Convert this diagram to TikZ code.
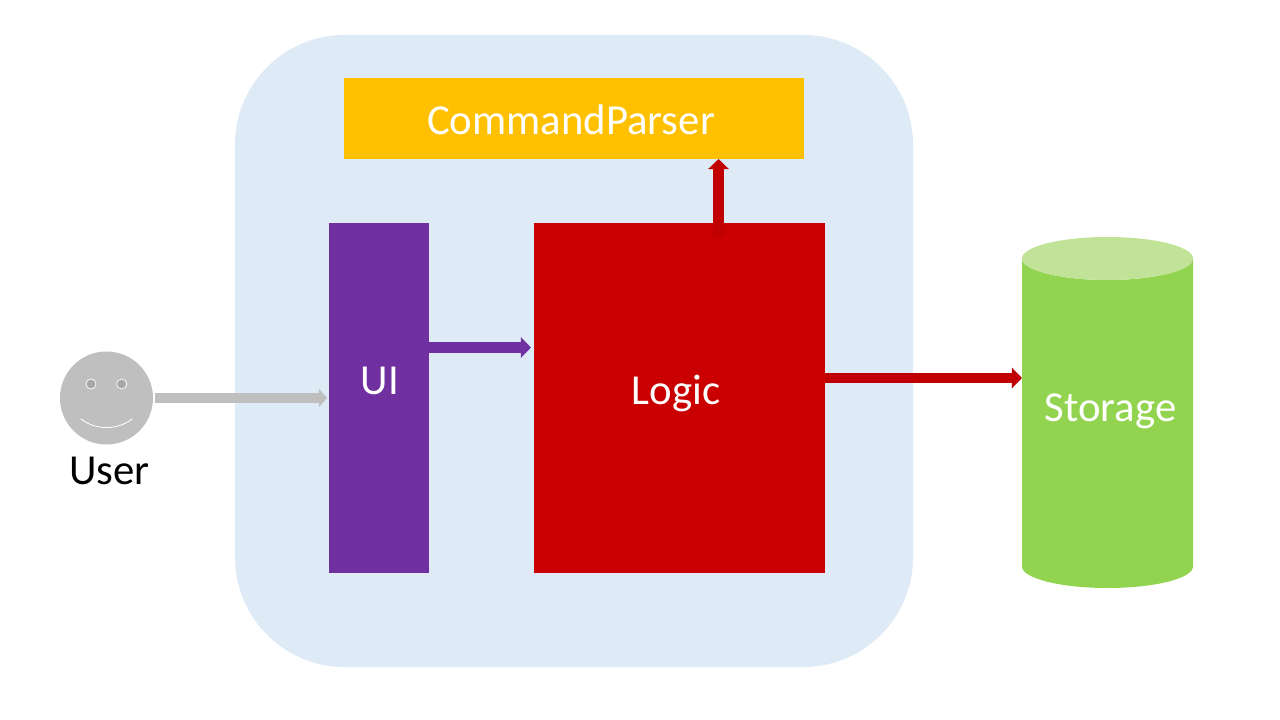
\documentclass[tikz,border=0pt]{standalone}
\usepackage{fontspec}
\setmainfont{Carlito}
\usetikzlibrary{arrows.meta}
\newcommand{\pxl}{0.7113pt}
\newcommand{\bigsize}{\fontsize{30.4}{36}\selectfont}
\definecolor{panelblue}{HTML}{DEEAF6}
\definecolor{parseryellow}{HTML}{FFC000}
\definecolor{uipurple}{HTML}{7030A0}
\definecolor{logicred}{HTML}{CA0000}
\definecolor{arrowred}{HTML}{C00000}
\definecolor{storagegreen}{HTML}{92D350}
\definecolor{storagetop}{HTML}{C1E398}
\definecolor{usergray}{HTML}{BFBFBF}
\definecolor{eyegray}{HTML}{A6A6A6}
\tikzset{
	blockbox/.style={rectangle, inner sep=0pt, outer sep=0pt}
}
\tikzset{
	whitetext/.style={font=\bigsize, text=white, inner sep=0pt}
}
\tikzset{
	fatarrow/.style={line width=#1*\pxl, -{Triangle[length=10*\pxl, width=20*\pxl]}}
}
\tikzset{
	eye/.style={circle, fill=eyegray, draw=white, line width=0.5pt, minimum size=10*\pxl, inner sep=0pt}
}

\begin{document}
\begin{tikzpicture}[x=0.025cm, y=-0.025cm]
      \useasboundingbox (0,0) rectangle (1280,720);
      \node[blockbox, fill=panelblue, rounded corners=110*\pxl, minimum width=678*\pxl, minimum height=632*\pxl] (panel) at (574,351) {};
      \node[blockbox, fill=parseryellow, minimum width=460*\pxl, minimum height=81*\pxl] (parser) at (574,118.5) {};
      \node[blockbox, fill=uipurple, minimum width=100*\pxl, minimum height=350*\pxl] (ui) at (379,398) {};
      \node[blockbox, fill=logicred, minimum width=291*\pxl, minimum height=350*\pxl] (logic) at (679.5,398) {};
      % cylinder, the node only gives the anchors
      \node[blockbox, minimum width=171*\pxl, minimum height=351*\pxl] (storage) at (1107.5,412.5) {};
      \fill[storagegreen] (1022,258.5) -- (1022,566.5) arc[start angle=180, end angle=0, x radius=85.5, y radius=21.5] -- (1193,258.5) arc[start angle=0, end angle=180, x radius=85.5, y radius=21.5] -- cycle;
      \fill[storagetop] (1107.5,258.5) ellipse[x radius=85.5, y radius=21.5];
      \node[whitetext] (parserlabel) at (571,120) {CommandParser};
      \node[whitetext] (uilabel) at (380,381) {UI};
      \node[whitetext] (logiclabel) at (676,393.5) {Logic};
      \node[whitetext] (storagelabel) at (1110.5,411) {Storage};
      % user face
      \node[circle, fill=usergray, minimum size=93*\pxl, inner sep=0pt, outer sep=0pt] (face) at (106.5,398) {};
      \node[eye] (lefteye) at (91,384) {};
      \node[eye] (righteye) at (121.7,384) {};
      \draw[white, line width=0.6pt] (80.7,418.7) .. controls (95,430.5) and (118,430.5) .. (132.3,418.7);
      \node[font=\bigsize, inner sep=0pt] (userlabel) at (109.5,471) {User};
      % rows and columns of the arrows
      \coordinate (uirow) at (0,347.5);
      \coordinate (storagerow) at (0,378);
      \coordinate (parsercol) at (718.5,0);
      \draw[fatarrow=9, usergray, -{Triangle[length=8*\pxl, width=18*\pxl]}, shorten <=1.5*\pxl, shorten >=2*\pxl] (face.east) -- (ui.west);
      \draw[fatarrow=11, uipurple] (ui.east |- uirow) -- ([xshift=-3*\pxl]logic.west |- uirow);
      \draw[fatarrow=11, arrowred, shorten <=-14*\pxl] (logic.north -| parsercol) -- (parser.south -| parsercol);
      \draw[fatarrow=10, arrowred] (logic.east |- storagerow) -- (storage.west |- storagerow);
    \end{tikzpicture}
\end{document}
